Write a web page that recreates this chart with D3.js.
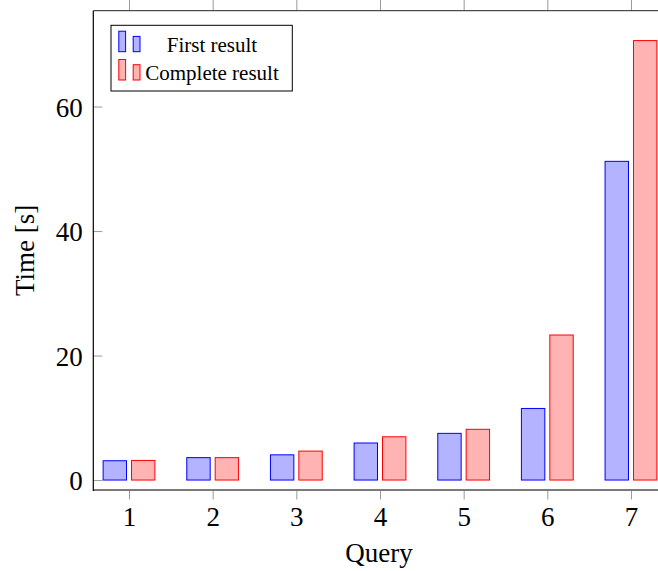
<!DOCTYPE html>
<html>
<head>
<meta charset="utf-8">
<script src="https://cdn.jsdelivr.net/npm/d3@7"></script>
<style>
  html, body { margin: 0; padding: 0; background: #fff; }
  svg { display: block; font-family: "Liberation Serif", "Times New Roman", serif; }
</style>
</head>
<body>
<svg id="chart" width="658" height="571"></svg>
<script>
const categories = [1, 2, 3, 4, 5, 6, 7];
const firstResult = [3.1, 3.6, 4.05, 5.95, 7.5, 11.5, 51.2];
const completeResult = [3.15, 3.6, 4.65, 6.95, 8.15, 23.3, 70.6];
const yTickValues = [0, 20, 40, 60];
const seriesNames = ["First result", "Complete result"];
const xLabel = "Query";
const yLabel = "Time [s]";

(function () {
const svg = d3.select("#chart");
const pL = 93.3, pR = 666.7, pT = 10.7, pB = 490;

const x = d3.scaleLinear().domain([0.573, 7.427]).range([pL, pR]);
const y = d3.scaleLinear().domain([-1.6, 75.4]).range([pB, pT]);

const series = [
  { name: seriesNames[0], values: firstResult, fill: "#b3b3ff", stroke: "#0000ff", shift: -14.2 },
  { name: seriesNames[1], values: completeResult, fill: "#ffb3b3", stroke: "#ff0000", shift: 14.2 }
];
const barW = 23.4;

// bars
series.forEach(s => {
  svg.append("g").selectAll("rect")
    .data(categories.map((c, i) => ({ c, v: s.values[i] })))
    .join("rect")
    .attr("x", d => x(d.c) + s.shift - barW / 2)
    .attr("width", barW)
    .attr("y", d => y(d.v))
    .attr("height", d => y(0) - y(d.v))
    .attr("fill", s.fill)
    .attr("stroke", s.stroke)
    .attr("stroke-width", 1);
});

// x axis bottom (outward ticks)
const xAxisB = svg.append("g").attr("transform", `translate(0,${pB})`)
  .call(d3.axisBottom(x).tickValues(categories).tickSize(9.5).tickPadding(5).tickFormat(d3.format("d")));
xAxisB.select(".domain").remove();
xAxisB.selectAll(".tick line").attr("stroke", "#9a9a9a").attr("stroke-width", 1);
xAxisB.selectAll(".tick text").attr("font-size", 27).attr("fill", "#000")
  .attr("font-family", "Liberation Serif, serif").attr("y", 0).attr("dy", 36.3);

// x axis top (outward ticks)
const xAxisT = svg.append("g").attr("transform", `translate(0,${pT})`)
  .call(d3.axisTop(x).tickValues(categories).tickSize(10.7).tickFormat(""));
xAxisT.select(".domain").remove();
xAxisT.selectAll(".tick line").attr("stroke", "#9a9a9a").attr("stroke-width", 1);

// y axis (inner ticks)
const yAxis = svg.append("g").attr("transform", `translate(${pL},0)`)
  .call(d3.axisLeft(y).tickValues(yTickValues).tickSize(-9).tickPadding(0).tickFormat(d3.format("d")));
yAxis.select(".domain").remove();
yAxis.selectAll(".tick line").attr("stroke", "#9a9a9a").attr("stroke-width", 1);
yAxis.selectAll(".tick text").attr("font-size", 27).attr("fill", "#000")
  .attr("font-family", "Liberation Serif, serif").attr("x", -10.5).attr("dy", "0.36em");

// frame
svg.append("line").attr("x1", pL).attr("x2", 658).attr("y1", pT).attr("y2", pT)
  .attr("stroke", "#222").attr("stroke-width", 1);
svg.append("line").attr("x1", pL).attr("x2", 658).attr("y1", pB).attr("y2", pB)
  .attr("stroke", "#7a7a7a").attr("stroke-width", 1.8);
svg.append("line").attr("x1", pL).attr("x2", pL).attr("y1", pT).attr("y2", pB + 0.9)
  .attr("stroke", "#000").attr("stroke-width", 1.2);

// axis labels
svg.append("text").attr("x", 379).attr("y", 562)
  .attr("text-anchor", "middle").attr("font-size", 27).text(xLabel);
svg.append("text").attr("transform", `translate(34,${(pT + pB) / 2}) rotate(-90)`)
  .attr("text-anchor", "middle").attr("font-size", 27).text(yLabel);

// legend
const lg = svg.append("g");
lg.append("rect").attr("x", 111).attr("y", 25.3).attr("width", 181.3).attr("height", 65.7)
  .attr("fill", "#fff").attr("stroke", "#000").attr("stroke-width", 1);
series.forEach((s, i) => {
  const base = 51.7 + i * 28.3;
  lg.append("rect").attr("x", 118.8).attr("y", base - 20.5).attr("width", 6.8).attr("height", 20.5)
    .attr("fill", s.fill).attr("stroke", s.stroke).attr("stroke-width", 1);
  lg.append("rect").attr("x", 133.2).attr("y", base - 15.3).attr("width", 6.8).attr("height", 15.3)
    .attr("fill", s.fill).attr("stroke", s.stroke).attr("stroke-width", 1);
  lg.append("text").attr("x", 212).attr("y", base).attr("text-anchor", "middle")
    .attr("font-size", 21).text(s.name);
});
})();
</script>
</body>
</html>
